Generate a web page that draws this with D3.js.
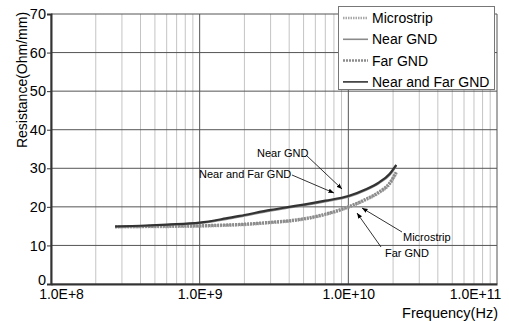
<!DOCTYPE html>
<html>
<head>
<meta charset="utf-8">
<script src="https://cdn.jsdelivr.net/npm/d3@7"></script>
<style>
  body { margin: 0; background: #fff; }
  text { font-family: "Liberation Sans", Arial, sans-serif; fill: #000; }
</style>
</head>
<body>
<div id="chart"></div>
<script>
// frequencies (Hz)
var freqs = [2.7e8, 4e8, 6e8, 1e9, 1.5e9, 2e9, 3e9, 4e9, 5e9, 7e9, 1e10, 1.3e10, 1.6e10, 1.9e10, 2.1e10];

// resistance (Ohm/mm) for each model
var microstrip  = [14.8, 14.9, 14.9, 15.0, 15.2, 15.4, 15.9, 16.3, 16.8, 18.0, 19.9, 21.8, 23.6, 26.0, 28.8];
var nearGnd     = [14.9, 15.0, 15.3, 15.8, 16.8, 17.7, 19.0, 19.8, 20.4, 21.4, 22.6, 24.3, 26.1, 28.3, 30.6];
var farGnd      = [14.9, 14.9, 15.0, 15.1, 15.3, 15.5, 16.0, 16.4, 16.9, 18.1, 20.0, 21.9, 23.8, 26.2, 29.0];
var nearFarGnd  = [14.9, 15.1, 15.4, 15.9, 17.0, 17.9, 19.2, 20.0, 20.6, 21.6, 22.8, 24.5, 26.3, 28.6, 30.9];

var seriesNames = ["Microstrip", "Near GND", "Far GND", "Near and Far GND"];
var yTicks = [0, 10, 20, 30, 40, 50, 60, 70];
var xTicks = [1e8, 1e9, 1e10, 1e11];
var xTickLabels = ["1.0E+8", "1.0E+9", "1.0E+10", "1.0E+11"];

var W = 509, H = 321;
var margin = {top: 14, right: 12, bottom: 37, left: 51};

var svg = d3.select("#chart").append("svg")
  .attr("width", W)
  .attr("height", H);

var x = d3.scaleLog()
  .domain([1e8, 1e11])
  .range([margin.left, W - margin.right]);

var y = d3.scaleLinear()
  .domain([0, 70])
  .range([H - margin.bottom, margin.top]);

// minor vertical gridlines (2..9 per decade)
var minor = [];
[1e8, 1e9, 1e10].forEach(function(d) {
  for (var k = 2; k <= 9; k++) minor.push(d * k);
});

svg.append("g").selectAll("line")
  .data(minor)
  .enter().append("line")
  .attr("x1", d => x(d)).attr("x2", d => x(d))
  .attr("y1", y(0)).attr("y2", y(70))
  .attr("stroke", "#c4c4c4")
  .attr("stroke-width", 1);

svg.append("g").selectAll("line")
  .data(xTicks)
  .enter().append("line")
  .attr("x1", d => x(d)).attr("x2", d => x(d))
  .attr("y1", y(0)).attr("y2", y(70))
  .attr("stroke", "#555")
  .attr("stroke-width", 1);

svg.append("g").selectAll("line")
  .data(yTicks)
  .enter().append("line")
  .attr("x1", x(1e8)).attr("x2", x(1e11))
  .attr("y1", d => y(d)).attr("y2", d => y(d))
  .attr("stroke", "#555")
  .attr("stroke-width", 1);

// axes
var yAxis = svg.append("g")
  .attr("transform", "translate(" + margin.left + ",0)")
  .call(d3.axisLeft(y).tickValues(yTicks).tickSize(4).tickPadding(1).tickFormat(d3.format("d")));
yAxis.select(".domain").attr("stroke", "#333").attr("stroke-width", 2);
yAxis.selectAll(".tick line").attr("stroke", "#333");
yAxis.selectAll("text").style("font-size", "14.5px").attr("fill", "#000");
yAxis.selectAll("text").filter(d => d === 0).attr("dy", "0em");

var xAxis = svg.append("g")
  .attr("transform", "translate(0," + y(0) + ")")
  .call(d3.axisBottom(x).tickValues(xTicks).tickSize(0).tickPadding(5)
    .tickFormat((d, i) => xTickLabels[i]));
xAxis.select(".domain").attr("stroke", "#333").attr("stroke-width", 2);
xAxis.selectAll("text").style("font-size", "14px").attr("fill", "#000");
xAxis.selectAll("text").filter((d, i) => i === 0).attr("dx", 10);
xAxis.selectAll("text").filter((d, i) => i === 3).attr("dx", -22);

// axis titles
svg.append("text")
  .attr("transform", "translate(27,80) rotate(-90)")
  .attr("text-anchor", "middle")
  .style("font-size", "14px")
  .text("Resistance(Ohm/mm)");

svg.append("text")
  .attr("x", 498).attr("y", 318)
  .attr("text-anchor", "end")
  .style("font-size", "14.5px")
  .text("Frequency(Hz)");

// series
var line = d3.line()
  .x((d, i) => x(freqs[i]))
  .y(d => y(d))
  .curve(d3.curveMonotoneX);

var styles = [
  {data: microstrip, stroke: "#a8a8a8", width: 3.2, dash: "1.5,1"},
  {data: farGnd,     stroke: "#8c8c8c", width: 3.2, dash: "2,1"},
  {data: nearGnd,    stroke: "#8a8a8a", width: 2, dash: null},
  {data: nearFarGnd, stroke: "#333",    width: 2.2, dash: null}
];

styles.forEach(function(s) {
  svg.append("path")
    .datum(s.data)
    .attr("d", line)
    .attr("fill", "none")
    .attr("stroke", s.stroke)
    .attr("stroke-width", s.width)
    .attr("stroke-dasharray", s.dash);
});

// annotations with arrows
svg.append("defs").append("marker")
  .attr("id", "arr")
  .attr("viewBox", "0 0 10 10")
  .attr("refX", 10).attr("refY", 5)
  .attr("markerWidth", 7).attr("markerHeight", 7)
  .attr("orient", "auto")
  .append("path")
  .attr("d", "M0,1 L10,5 L0,9 Z")
  .attr("fill", "#000");

var notes = [
  {label: "Near GND",         tx: 257, ty: 157, x1: 306, y1: 155, x2: 342, y2: 189},
  {label: "Near and Far GND", tx: 199, ty: 178, x1: 292, y1: 175, x2: 334, y2: 193},
  {label: "Microstrip",       tx: 403, ty: 241, x1: 402, y1: 232, x2: 362, y2: 208},
  {label: "Far GND",          tx: 385, ty: 257, x1: 381, y1: 247, x2: 357, y2: 213}
];

notes.forEach(function(n) {
  svg.append("text")
    .attr("x", n.tx).attr("y", n.ty)
    .style("font-size", "11px")
    .text(n.label);
  svg.append("line")
    .attr("x1", n.x1).attr("y1", n.y1)
    .attr("x2", n.x2).attr("y2", n.y2)
    .attr("stroke", "#000")
    .attr("stroke-width", 0.8)
    .attr("marker-end", "url(#arr)");
});

// legend
var legend = svg.append("g");
legend.append("rect")
  .attr("x", 338.5).attr("y", 6.5)
  .attr("width", 156).attr("height", 83)
  .attr("fill", "#fff")
  .attr("stroke", "#777");

var legendStyles = [styles[0], styles[2], styles[1], styles[3]];
seriesNames.forEach(function(name, i) {
  var s = legendStyles[i];
  var ly = 18 + i * 21.3;
  legend.append("line")
    .attr("x1", 343).attr("x2", 368)
    .attr("y1", ly).attr("y2", ly)
    .attr("stroke", s.stroke)
    .attr("stroke-width", s.dash ? 2.5 : 1.6)
    .attr("stroke-dasharray", s.dash);
  legend.append("text")
    .attr("x", 372).attr("y", ly + 5)
    .style("font-size", "14px")
    .text(name);
});
</script>
</body>
</html>
